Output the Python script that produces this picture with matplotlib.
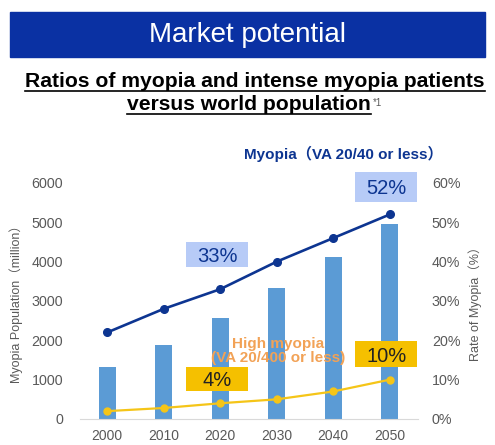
import matplotlib
matplotlib.use("Agg")
import matplotlib.pyplot as plt
import matplotlib.transforms as mtransforms
from matplotlib.patches import Rectangle
from matplotlib.lines import Line2D

plt.rcParams['font.family'] = ['Liberation Sans', 'Noto Sans CJK JP', 'DejaVu Sans']

years = ['2000', '2010', '2020', '2030', '2040', '2050']
myopia_population = [1330, 1890, 2560, 3320, 4130, 4950]   # million
myopia_rate = [22, 28, 33, 40, 46, 52]                      # %
high_myopia_rate = [2.0, 2.8, 4.0, 5.0, 7.0, 10.0]          # %

bar_color = '#5b9bd5'
navy = '#0d3591'
gold = '#f5c518'
gray = '#595959'

fig = plt.figure(figsize=(4.95, 4.45), dpi=100)

# header band
fig.patches.append(Rectangle((10 / 495, 1 - 57 / 445), 475 / 495, 45 / 445,
                             transform=fig.transFigure, color='#0a31a3', zorder=0))
fig.text(0.5, 1 - 35 / 445, 'Market potential', color='white', fontsize=20,
         ha='center', va='center')

# subtitle (underlined)
sub1 = fig.text(0.515, 1 - 87 / 445, 'Ratios of myopia and intense myopia patients',
                fontsize=15.2, fontweight='bold', ha='center', va='baseline')
sub2 = fig.text(0.503, 1 - 110 / 445, 'versus world population',
                fontsize=15.2, fontweight='bold', ha='center', va='baseline')

x = list(range(len(years)))
ax = fig.add_axes([80 / 495, 1 - 419 / 445, 338 / 495, 236 / 445])
ax.bar(x, myopia_population, width=0.3, color=bar_color, zorder=2)
ax.set_ylim(0, 6000)
ax.set_xlim(-0.48, 5.5)
ax.set_yticks(range(0, 6001, 1000))
ax.set_xticks(x)
ax.set_xticklabels(years)
for s in ['top', 'right', 'left']:
    ax.spines[s].set_visible(False)
ax.spines['bottom'].set_color('#d9d9d9')
ax.tick_params(length=0, colors=gray, labelsize=10.3)
ax.tick_params(axis='y', pad=12)
ax.tick_params(axis='x', pad=7, labelsize=10)
ax.set_ylabel('Myopia Population（million）', color=gray, fontsize=9, labelpad=6)

ax2 = ax.twinx()
ax2.plot(x, myopia_rate, color=navy, lw=1.9, marker='o', ms=5.5, zorder=3)
ax2.plot(x, high_myopia_rate, color=gold, lw=1.6, marker='o', ms=5, zorder=3)
ax2.set_ylim(0, 60)
ax2.set_yticks(range(0, 61, 10))
ax2.set_yticklabels([f'{v}%' for v in range(0, 61, 10)])
for s in ['top', 'right', 'left', 'bottom']:
    ax2.spines[s].set_visible(False)
ax2.tick_params(length=0, colors=gray, labelsize=10.3, pad=10)
ax2.set_ylabel('Rate of Myopia（%）', color=gray, fontsize=9, labelpad=6)


# callouts: fixed-size boxes (pixels) centred at a data position
def callout(xp, yp, txt, face, tc, w=62, h=26):
    off = fig.dpi_scale_trans + mtransforms.ScaledTranslation(xp, yp, ax2.transData)
    ax2.add_artist(Rectangle((-w / 200, -h / 200), w / 100, h / 100, transform=off,
                             fc=face, ec='none', zorder=5, clip_on=False))
    ax2.text(xp, yp, txt, fontsize=14.5, color=tc, ha='center', va='center_baseline',
             zorder=6)


callout(1.95, 41.7, '33%', '#b7cbf7', navy, h=25)
callout(4.94, 59.0, '52%', '#b7cbf7', navy, h=30)
callout(1.95, 10.2, '4%', '#f5c000', '#222222', h=24)
callout(4.94, 16.5, '10%', '#f5c000', '#222222', h=26)

ax2.text(2.43, 67.4, 'Myopia（VA 20/40 or less）', color=navy, fontsize=11,
         fontweight='bold', ha='left', va='center', clip_on=False)
ax2.text(3.03, 17.4, 'High myopia\n(VA 20/400 or less)', color='#f2a256', fontsize=11,
         fontweight='bold', ha='center', va='center', linespacing=1.0, zorder=4)

# underline the subtitle and add footnote mark
fig.canvas.draw()
r = fig.canvas.get_renderer()
inv = fig.transFigure.inverted()
for t in (sub1, sub2):
    bb = t.get_window_extent(r)
    x0, _ = inv.transform((bb.x0, 0))
    x1, _ = inv.transform((bb.x1, 0))
    _, yb = t.get_position()
    fig.lines.append(Line2D([x0, x1], [yb - 4 / 445, yb - 4 / 445], transform=fig.transFigure,
                            color='black', lw=1.2))
bb = sub2.get_window_extent(r)
xe, _ = inv.transform((bb.x1, 0))
fig.text(xe + 0.004, 1 - 98 / 445, '*1', fontsize=7, color=gray, ha='left', va='top')

fig.savefig('out.png', dpi=100)
